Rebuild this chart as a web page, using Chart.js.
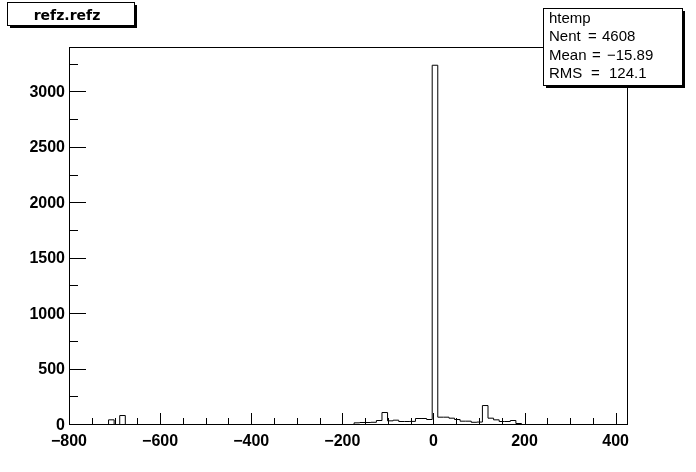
<!DOCTYPE html>
<html>
<head>
<meta charset="utf-8">
<script src="https://cdn.jsdelivr.net/npm/chart.js@4/dist/chart.umd.min.js"></script>
<style>
  html, body { margin: 0; padding: 0; background: #fff; }
  canvas { display: block; }
</style>
</head>
<body>
<canvas id="c" width="696" height="472"></canvas>
<script>
// ---- data ----
const histTitle = 'refz.refz';
const histName = 'htemp';
const binLow = -800;        // low edge of first bin
const binWidth = 12.25;     // bin width
const xMin = -800, xMax = 425;
const yMin = 0, yMax = 3400;
// bin contents, 100 bins
const counts = [
  0, 0, 0, 0, 0, 0, 0, 42, 0, 81,
  0, 0, 0, 0, 0, 0, 0, 0, 0, 0,
  0, 0, 0, 0, 0, 0, 0, 0, 0, 0,
  0, 0, 0, 0, 0, 0, 0, 0, 0, 0,
  0, 0, 0, 0, 0, 0, 0, 0, 0, 0,
  0, 15, 18, 18, 20, 36, 108, 33, 39, 27,
  27, 28, 54, 54, 45, 3240, 66, 66, 57, 45,
  30, 30, 20, 22, 171, 57, 42, 27, 27, 36,
  9, 0, 0, 0, 0, 0, 0, 0, 0, 0,
  0, 0, 0, 0, 0, 0, 0, 0, 0, 0
];
const xMajorTicks = [-800, -600, -400, -200, 0, 200, 400];
const xMinorTicks = [-750, -700, -650, -550, -500, -450, -350, -300, -250, -150, -100, -50, 50, 100, 150, 250, 300, 350];
const yMajorTicks = [0, 500, 1000, 1500, 2000, 2500, 3000];
const yMinorTicks = [250, 750, 1250, 1750, 2250, 2750, 3250];
const statsLabels = ['Nent', 'Mean', 'RMS'];
const statsValues = ['4608', '\u221215.89', '124.1'];

// step points: left edge of each bin with its content, then closing edge
const points = counts.map((v, i) => ({ x: binLow + i * binWidth, y: v }));
points.push({ x: binLow + counts.length * binWidth, y: 0 });

function fmt(v) { return v < 0 ? '\u2212' + Math.abs(v) : String(v); }

const rootDecor = {
  id: 'rootDecor',
  beforeDatasetsDraw(chart) { chart.ctx.save(); chart.ctx.translate(0.5, 0.5); },
  afterDatasetsDraw(chart) { chart.ctx.restore(); },
  afterDraw(chart) {
    const ctx = chart.ctx;
    const a = chart.chartArea;
    const xs = chart.scales.x, ys = chart.scales.y;
    const L = Math.round(a.left), R = Math.round(a.right), T = Math.round(a.top), B = Math.round(a.bottom);
    ctx.save();
    ctx.strokeStyle = '#000';
    ctx.fillStyle = '#000';
    ctx.lineWidth = 1;
    // frame
    ctx.strokeRect(L + 0.5, T + 0.5, R - L, B - T);
    // ticks
    const xMajLen = 11, xMinLen = 6, yMajLen = 17, yMinLen = 9;
    ctx.beginPath();
    xMajorTicks.forEach(v => { const px = Math.round(xs.getPixelForValue(v)) + 0.5; ctx.moveTo(px, B); ctx.lineTo(px, B - xMajLen); });
    xMinorTicks.forEach(v => { const px = Math.round(xs.getPixelForValue(v)) + 0.5; ctx.moveTo(px, B); ctx.lineTo(px, B - xMinLen); });
    yMajorTicks.forEach(v => { const py = Math.round(ys.getPixelForValue(v)) + 0.5; ctx.moveTo(L, py); ctx.lineTo(L + yMajLen, py); });
    yMinorTicks.forEach(v => { const py = Math.round(ys.getPixelForValue(v)) + 0.5; ctx.moveTo(L, py); ctx.lineTo(L + yMinLen, py); });
    ctx.stroke();
    // labels
    ctx.font = 'bold 16px "Liberation Sans", Arial, sans-serif';
    ctx.textBaseline = 'alphabetic';
    ctx.textAlign = 'right';
    yMajorTicks.forEach(v => { ctx.fillText(fmt(v), L - 4, ys.getPixelForValue(v) + 5.5); });
    ctx.textAlign = 'center';
    xMajorTicks.forEach(v => { ctx.fillText(fmt(v), xs.getPixelForValue(v), B + 22); });

    // title box
    ctx.fillStyle = '#fff';
    ctx.fillRect(7, 2, 127, 23);
    ctx.fillStyle = '#000';
    ctx.strokeRect(7.5, 2.5, 127, 23);
    ctx.fillRect(135, 5, 2, 23);
    ctx.fillRect(10, 26, 127, 2);
    ctx.font = 'bold 14px "DejaVu Sans", sans-serif';
    ctx.textAlign = 'center';
    ctx.fillText(histTitle, 67, 20);

    // stats box
    ctx.fillStyle = '#fff';
    ctx.fillRect(543, 8, 139, 77);
    ctx.fillStyle = '#000';
    ctx.strokeRect(543.5, 8.5, 139, 77);
    ctx.fillRect(683, 11, 2, 77);
    ctx.fillRect(546, 86, 139, 2);
    ctx.font = '15px "Liberation Sans", Arial, sans-serif';
    ctx.textAlign = 'left';
    ctx.fillText(histName, 549, 23);
    const eqX = [588, 592, 591];
    const valX = [602, 607, 609];
    const base = [41, 60, 78];
    statsLabels.forEach((s, i) => {
      ctx.fillText(s, 549, base[i]);
      ctx.fillText('=', eqX[i], base[i]);
      ctx.fillText(statsValues[i], valX[i], base[i]);
    });
    ctx.restore();
  }
};

new Chart(document.getElementById('c'), {
  type: 'line',
  data: {
    datasets: [{
      label: histName,
      data: points,
      stepped: 'before',
      borderColor: '#000',
      borderWidth: 1,
      pointRadius: 0,
      fill: false,
      tension: 0
    }]
  },
  options: {
    responsive: false,
    animation: false,
    devicePixelRatio: 1,
    layout: { padding: { left: 69, top: 47, right: 69, bottom: 48 } },
    scales: {
      x: { type: 'linear', min: xMin, max: xMax, display: false },
      y: { type: 'linear', min: yMin, max: yMax, display: false }
    },
    plugins: { legend: { display: false }, tooltip: { enabled: false }, title: { display: false } }
  },
  plugins: [rootDecor]
});
</script>
</body>
</html>
